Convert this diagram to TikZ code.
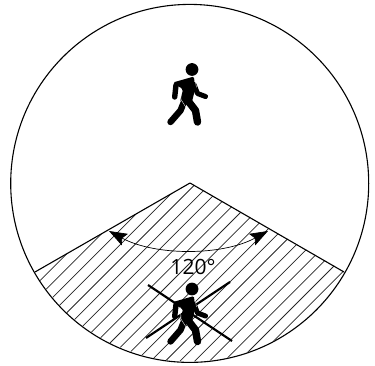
\documentclass[tikz,border=0pt]{standalone}
\usepackage{fontspec}
\setmainfont{Open Sans}
\usepackage{tikz}
\usetikzlibrary{arrows.meta}

\tikzset{
  zone/.style={line width=1.1pt, draw=black},
  hatch/.style={line width=0.75pt, draw=black!85},
  sweep/.style={line width=0.7pt, draw=black,
    {Stealth[length=18pt,width=13pt,inset=3pt]}-{Stealth[length=18pt,width=13pt,inset=3pt]}},
  strike/.style={line width=2.2pt, draw=black},
  limb/.style={draw=black, line cap=round, line join=round},
  pics/walker/.style={code={
    \fill[black] (0,0) circle (6.4);
    \fill[black, rounded corners=1.5pt] (-19,13) -- (2,7) -- (3,20) -- (-1,36) -- (-12,32) -- (-9,20) -- cycle;
    % arms
    \draw[limb, line width=5.4pt] (-16,15.5) -- (-17.3,27.5);
    \draw[limb, line width=5pt] (2,15) -- (5.5,24) -- (13.5,27);
    % legs
    \draw[limb, line width=6.4pt] (-7,30) -- (-11.5,41) -- (-21.5,52.5);
    \draw[limb, line width=7.4pt] (-5,30) -- (3.5,41) -- (5.5,52.5);
    % gaps
    \draw[white, line width=0.35pt] (-11.5,18) -- (-11,30) -- (-6,38);
    \draw[white, line width=0.35pt] (3.2,11) -- (4.5,18);
  }}
}

\begin{document}
\begin{tikzpicture}[x=1pt, y=-1pt]
  \useasboundingbox (0,0) rectangle (375,366);

  %% hatched sector
  \begin{scope}
    \clip (190,183) -- (35,272) arc[start angle=150, end angle=30, radius=179]
      -- cycle;
    \foreach \k in {-3,...,24}{
      \draw[hatch] (\k*14.7-59.3,380) -- (\k*14.7+320.7,0);
    }
  \end{scope}

  %% outline
  \node[circle, zone, minimum size=358pt, inner sep=0pt] (field) at (189.7,183.4) {};
  \coordinate (apex) at (190,183);
  \coordinate (edgeL) at (35,272);
  \coordinate (edgeR) at (344,272);
  \draw[zone, line join=round] (edgeL) -- (apex) -- (edgeR);

  %% angle
  \coordinate (tipL) at (109,231);
  \coordinate (tipR) at (268,231);
  \draw[sweep] (tipL) .. controls (155,256) and (222,256) .. (tipR);
  \node[font=\fontsize{21}{21}\selectfont, inner sep=0pt] (angle) at (193,266.5) {120°};

  %% figures
  \pic at (192,69.5) {walker};
  \coordinate (crossA) at (148,285);
  \coordinate (crossB) at (232,341);
  \coordinate (crossC) at (230,282);
  \coordinate (crossD) at (146,338);
  \draw[strike] (crossA) -- (crossB);
  \draw[strike] (crossC) -- (crossD);
  \pic at (192,289) {walker};
\end{tikzpicture}
\end{document}
